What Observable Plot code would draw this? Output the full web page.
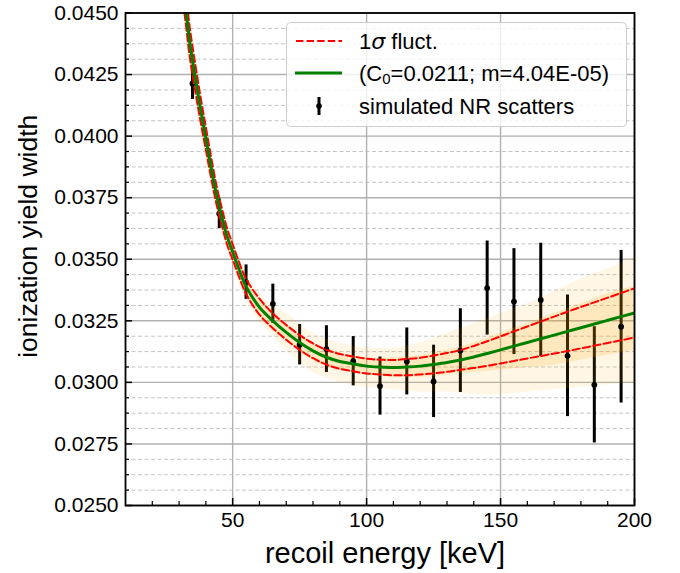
<!DOCTYPE html>
<html><head><meta charset="utf-8">
<script src="https://cdn.jsdelivr.net/npm/d3@7"></script>
<script src="https://cdn.jsdelivr.net/npm/@observablehq/plot@0.6"></script>
<style>
body{margin:0;background:#fff;}
#wrap{position:relative;width:680px;height:573px;font-family:"Liberation Sans",Arial,sans-serif;}
#legend{position:absolute;left:286px;top:22px;}
</style></head><body><div id="wrap"></div>
<script>
// simulated NR scatters
const pointE   = [35,45,55,65,75,85,95,105,115,125,135,145,155,165,175,185,195];
const pointY   = [0.04213,0.03685,0.03407,0.03319,0.03153,0.03135,0.03086,0.02985,0.03085,0.03004,0.03129,0.03383,0.03328,0.03335,0.03108,0.02990,0.03226];
const pointErr = [0.00064,0.0006,0.0007,0.0008,0.00082,0.00095,0.001,0.00118,0.00136,0.00147,0.0017,0.00191,0.00215,0.0023,0.00247,0.00236,0.0031];

// fit curve and 1-sigma fluctuation curves
const curveE = [32,32.5,34,36,38,40,42,44,46,48,50,52,55,60,65,70,75,80,85,90,95,100,105,110,115,120,125,130,135,140,145,150,155,160,165,170,175,180,185,190,195,200];
const fitY   = [0.04565,0.0452,0.0438,0.0424,0.0411,0.0399,0.0387,0.0376,0.0367,0.0359,0.0353,0.0347,0.0339,0.03305,0.0325,0.03203,0.03162,0.03128,0.03102,0.03085,0.03075,0.03066,0.03062,0.03060,0.03062,0.03066,0.03073,0.03081,0.03091,0.03103,0.03117,0.03132,0.03147,0.03162,0.03177,0.03192,0.03207,0.03222,0.03237,0.03252,0.03267,0.03282];
const upperY = [0.0463,0.04583,0.0444,0.04295,0.0416,0.04036,0.03912,0.03798,0.03705,0.03623,0.03561,0.035,0.0342,0.0334,0.0328,0.03233,0.03192,0.03158,0.03132,0.03115,0.03105,0.03096,0.03092,0.03091,0.03095,0.031,0.03109,0.03119,0.03131,0.03148,0.03167,0.03187,0.03207,0.03227,0.03247,0.03267,0.03287,0.03306,0.03325,0.03344,0.03363,0.03382];
const lowerY = [0.045,0.04457,0.0432,0.04185,0.0406,0.03944,0.03828,0.03722,0.03635,0.03557,0.03499,0.0344,0.0336,0.03275,0.0322,0.03173,0.03132,0.03098,0.03072,0.03055,0.03045,0.03036,0.03032,0.03029,0.03029,0.03032,0.03037,0.03043,0.03051,0.03058,0.03067,0.03077,0.03087,0.03097,0.03107,0.03117,0.03127,0.03138,0.03149,0.0316,0.03171,0.03182];

// spread of sampled fit curves (orange band)
const bandE   = [32,35,40,45,50,55,60,65,70,80,90,100,110,120,130,140,150,160,170,180,190,200];
const outerHi = [0.04675,0.0441,0.0407,0.03775,0.0358,0.03445,0.03365,0.0331,0.0328,0.0320,0.0316,0.0314,0.0314,0.0316,0.0320,0.0324,0.0328,0.0332,0.0337,0.0342,0.0346,0.0351];
const outerLo = [0.04455,0.0421,0.0391,0.03655,0.0348,0.03335,0.03245,0.0319,0.0313,0.0304,0.0300,0.0298,0.0297,0.0296,0.0296,0.0295,0.0295,0.0296,0.0297,0.0298,0.0299,0.0300];
const coreHi  = [0.04625,0.04365,0.04035,0.0375,0.0356,0.0342,0.0334,0.0329,0.0324,0.0316,0.0312,0.0310,0.0310,0.0311,0.0313,0.0316,0.0320,0.0324,0.0328,0.0332,0.0336,0.0339];
const coreLo  = [0.04505,0.04255,0.03945,0.0368,0.035,0.0336,0.0327,0.0321,0.0317,0.0309,0.0305,0.0303,0.0302,0.0302,0.0303,0.0304,0.0305,0.0306,0.0307,0.0309,0.0311,0.0313];

// ticks
const xMajor = [50,100,150,200];
const xMinor = [20,30,40,60,70,80,90,110,120,130,140,160,170,180,190];
const yMajor = [0.025,0.0275,0.03,0.0325,0.035,0.0375,0.04,0.0425,0.045];
const yMinor = d3.range(0,33).filter(i=>i%4!==0).map(i=>+(0.025+i*0.000625).toFixed(6));

const points = pointE.map((E,i)=>({E, y:pointY[i], err:pointErr[i]}));
const curve  = curveE.map((E,i)=>({E, fit:fitY[i], up:upperY[i], lo:lowerY[i]}));
const band   = bandE.map((E,i)=>({E, hi:outerHi[i], lo:outerLo[i], chi:coreHi[i], clo:coreLo[i]}));

const font = '"Liberation Sans", Arial, sans-serif';
const chart = Plot.plot({
  width:680, height:573,
  marginLeft:125, marginRight:46, marginTop:12.5, marginBottom:68,
  x:{domain:[10,200]},
  y:{domain:[0.025,0.045]},
  style:{fontFamily:font, fontSize:"21px", color:"black", background:"white"},
  marks:[
    Plot.gridY(yMinor,{stroke:"#c4c4c4", strokeOpacity:1, strokeWidth:1, strokeDasharray:"4,2.5"}),
    Plot.gridY(yMajor,{stroke:"#b0b0b0", strokeOpacity:1, strokeWidth:1.4}),
    Plot.gridX(xMajor,{stroke:"#b0b0b0", strokeOpacity:1, strokeWidth:1.4}),
    Plot.ruleX(points,{x:"E", y1:d=>d.y-d.err, y2:d=>d.y+d.err, stroke:"black", strokeWidth:3}),
    Plot.areaY(band,{x:"E", y1:"lo", y2:"hi", fill:"orange", fillOpacity:0.1, curve:"catmull-rom", clip:true}),
    Plot.areaY(band,{x:"E", y1:"clo", y2:"chi", fill:"orange", fillOpacity:0.17, curve:"catmull-rom", clip:true}),
    Plot.dot(points,{x:"E", y:"y", r:2.9, fill:"black"}),
    Plot.line(curve,{x:"E", y:"up", stroke:"red", strokeWidth:2, strokeDasharray:"7.4,3.2", curve:"catmull-rom", clip:true}),
    Plot.line(curve,{x:"E", y:"lo", stroke:"red", strokeWidth:2, strokeDasharray:"7.4,3.2", curve:"catmull-rom", clip:true}),
    Plot.line(curve,{x:"E", y:"fit", stroke:"green", strokeWidth:3, curve:"catmull-rom", clip:true}),
    Plot.frame({stroke:"black", strokeWidth:1.8}),
    Plot.axisY(yMajor,{tickSize:0, tickPadding:7, tickFormat:d3.format(".4f"), label:null, fontSize:21}),
    Plot.axisY(yMajor,{tickSize:-7, fill:"none", strokeWidth:1.5, label:null}),
    Plot.axisY(yMinor,{tickSize:-4, fill:"none", strokeWidth:1.2, label:null}),
    Plot.axisX(xMajor,{tickSize:0, tickPadding:7, label:null, fontSize:21}),
    Plot.axisX(xMajor,{tickSize:-7, fill:"none", strokeWidth:1.5, label:null}),
    Plot.axisX(xMinor,{tickSize:-4, fill:"none", strokeWidth:1.2, label:null}),
    Plot.text(["recoil energy [keV]"],{text:d=>d, frameAnchor:"bottom", textAnchor:"middle", lineAnchor:"middle", dx:5, dy:48, fontSize:29}),
    Plot.text(["ionization yield width"],{text:d=>d, frameAnchor:"left", textAnchor:"middle", lineAnchor:"middle", dx:-97, dy:-23, rotate:-90, fontSize:26.5})
  ]
});
const wrap = document.getElementById("wrap");
wrap.appendChild(chart);

// legend (inside the plot area, upper right)
const legendLabels = ["1σ fluct.", "(C0=0.0211; m=4.04E-05)", "simulated NR scatters"];
const lg = d3.select(wrap).append("svg").attr("id","legend")
  .attr("width",342).attr("height",106)
  .style("font-family",font).style("font-size","22px");
lg.append("rect").attr("x",0.5).attr("y",0.5).attr("width",340).attr("height",104).attr("rx",4)
  .attr("fill","white").attr("fill-opacity",0.8).attr("stroke","#cccccc");
const rows = [19,51,84];
lg.append("line").attr("x1",10).attr("x2",56).attr("y1",rows[0]).attr("y2",rows[0])
  .attr("stroke","red").attr("stroke-width",2).attr("stroke-dasharray","7.4,3.2");
lg.append("line").attr("x1",9).attr("x2",56).attr("y1",rows[1]).attr("y2",rows[1])
  .attr("stroke","green").attr("stroke-width",3);
lg.append("line").attr("x1",33).attr("x2",33).attr("y1",rows[2]-9).attr("y2",rows[2]+9)
  .attr("stroke","black").attr("stroke-width",3);
lg.append("circle").attr("cx",33).attr("cy",rows[2]).attr("r",2.8).attr("fill","black");
const t0 = lg.append("text").attr("x",73).attr("y",rows[0]).attr("dominant-baseline","central");
t0.append("tspan").text("1");
t0.append("tspan").attr("font-style","italic").attr("font-family","DejaVu Sans").text("σ");
t0.append("tspan").text(" fluct.");
const t1 = lg.append("text").attr("x",73).attr("y",rows[1]).attr("dominant-baseline","central");
t1.append("tspan").text("(C");
t1.append("tspan").attr("dy",5).attr("font-size","15px").text("0");
t1.append("tspan").attr("dy",-5).text("=0.0211; m=4.04E-05)");
lg.append("text").attr("x",73).attr("y",rows[2]).attr("dominant-baseline","central").text(legendLabels[2]);
</script>
</body></html>
